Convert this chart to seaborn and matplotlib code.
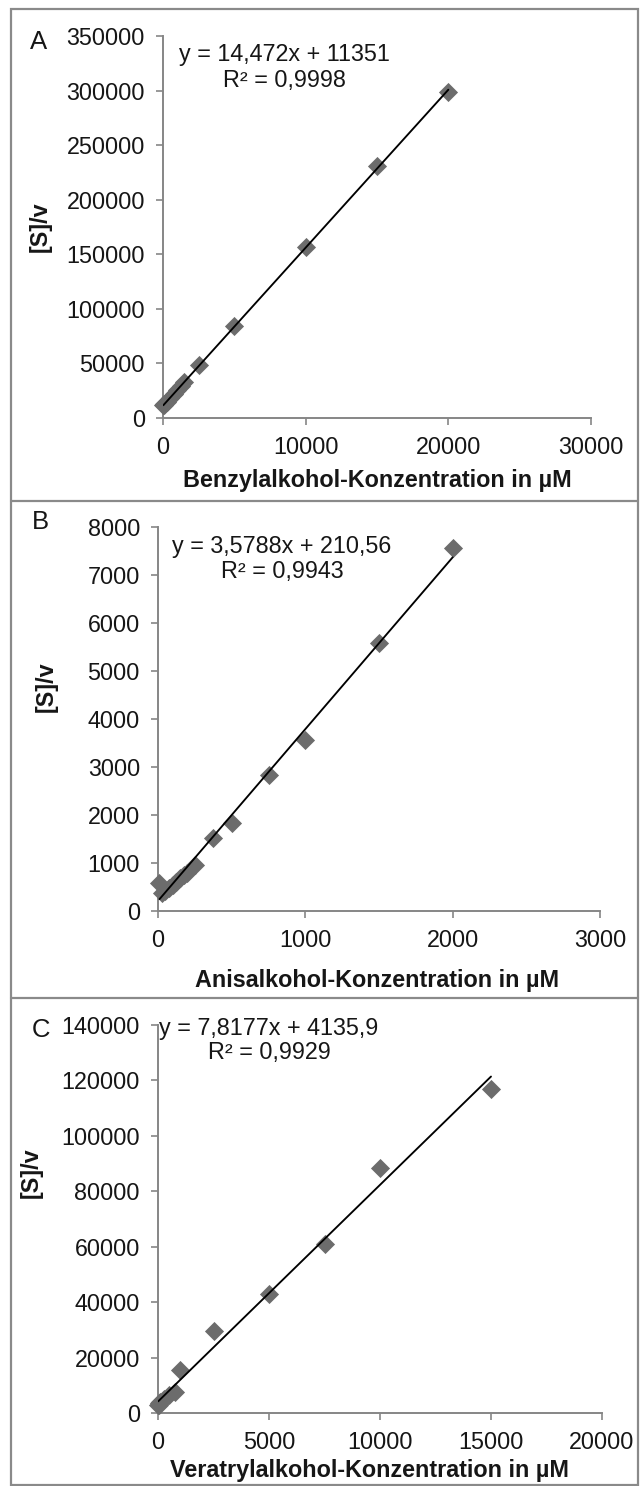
import matplotlib
matplotlib.use("Agg")
import matplotlib.pyplot as plt
from matplotlib.patches import Rectangle
from matplotlib.lines import Line2D
from matplotlib.ticker import FuncFormatter
import numpy as np
import pandas as pd
import seaborn as sns

# ---- data: substrate concentration (µM) vs. [S]/v (Hanes-Woolf) ----
benzyl_conc = [25, 50, 100, 250, 500, 750, 1000, 1250, 1500, 2500, 5000, 10000, 15000, 20000]
benzyl_sv = [11700, 12100, 12800, 15000, 18500, 22000, 25500, 29500, 33000, 49000,
             84000, 157000, 231000, 299000]
benzyl_fit = (14.472, 11351)
benzyl_r2 = "0,9998"

anis_conc = [10, 25, 50, 75, 100, 125, 150, 175, 200, 250, 375, 500, 750, 1000, 1500, 2000]
anis_sv = [590, 380, 420, 470, 540, 600, 680, 740, 800, 960, 1530, 1840, 2830, 3560, 5590, 7570]
anis_fit = (3.5788, 210.56)
anis_r2 = "0,9943"

veratryl_conc = [10, 25, 50, 100, 250, 500, 750, 1000, 2500, 5000, 7500, 10000, 15000]
veratryl_sv = [2800, 3000, 3500, 3900, 5000, 6600, 7600, 15500, 29500, 43000, 61000, 88500, 117000]
veratryl_fit = (7.8177, 4135.9)
veratryl_r2 = "0,9929"

panel_letters = ["A", "B", "C"]
x_labels = ["Benzylalkohol-Konzentration in µM",
            "Anisalkohol-Konzentration in µM",
            "Veratrylalkohol-Konzentration in µM"]
y_label = "[S]/v"
x_ticks = [[0, 10000, 20000, 30000], [0, 1000, 2000, 3000], [0, 5000, 10000, 15000, 20000]]
y_ticks = [list(range(0, 350001, 50000)), list(range(0, 8001, 1000)), list(range(0, 140001, 20000))]

# ---- style ----
sns.set_theme(style="white")
plt.rcParams["font.family"] = ["Liberation Sans", "DejaVu Sans"]

W, H = 640, 1486
fig = plt.figure(figsize=(W / 100, H / 100), dpi=100)
fig.patch.set_facecolor("white")

FS = 16.8        # tick labels and equations
FS_TITLE = 16.8  # axis titles (bold)
FS_LETTER = 18.5


def fx(px):
    return px / W


def fy(py):
    return 1 - py / H


# plot-area boxes in pixels: left, right, top, bottom
boxes = [(163, 591, 36, 418), (158, 600, 527, 911), (158, 602, 1025, 1413)]
# annotation anchors in pixels
eq_pos = [(284, 55, 80), (282, 547, 571), (269, 1028, 1053)]
letter_pos = [(39, 42), (40, 522), (41, 1030)]
ylabel_pos = [(40, 227), (46, 687), (31, 1173)]
xlabel_pos = [(377, 480), (377, 981), (369, 1471)]

datasets = [
    (benzyl_conc, benzyl_sv, benzyl_fit, benzyl_r2),
    (anis_conc, anis_sv, anis_fit, anis_r2),
    (veratryl_conc, veratryl_sv, veratryl_fit, veratryl_r2),
]

axis_grey = "#868686"
text_col = "#161616"
marker_col = "#6c6c6c"

for i, (conc, sv, fit, r2) in enumerate(datasets):
    l, r, t, b = boxes[i]
    ax = fig.add_axes([fx(l), fy(b), (r - l) / W, (b - t) / H])
    ax.set_facecolor("none")

    df = pd.DataFrame({"c": conc, "sv": sv})
    sns.scatterplot(data=df, x="c", y="sv", marker="D", s=95, color=marker_col,
                    linewidth=0, ax=ax, zorder=3, clip_on=False)

    slope, intercept = fit
    xs = np.array([min(conc), max(conc)], dtype=float)
    line_df = pd.DataFrame({"c": xs, "sv": slope * xs + intercept})
    sns.lineplot(data=line_df, x="c", y="sv", color="black", linewidth=1.35,
                 ax=ax, zorder=4)

    ax.set_xlim(x_ticks[i][0], x_ticks[i][-1])
    ax.set_ylim(y_ticks[i][0], y_ticks[i][-1])
    ax.set_xticks(x_ticks[i])
    ax.set_yticks(y_ticks[i])
    fmt = FuncFormatter(lambda v, p: f"{int(round(v))}")
    ax.xaxis.set_major_formatter(fmt)
    ax.yaxis.set_major_formatter(fmt)

    for s in ["top", "right"]:
        ax.spines[s].set_visible(False)
    for s in ["left", "bottom"]:
        ax.spines[s].set_color(axis_grey)
        ax.spines[s].set_linewidth(1.4)
    ax.tick_params(axis="both", direction="out", length=5, width=1.2, color=axis_grey,
                   labelsize=FS, labelcolor=text_col, pad=8)
    ax.tick_params(axis="y", left=True)
    ax.tick_params(axis="x", bottom=True)

    # axis titles
    ax.set_xlabel(x_labels[i], fontsize=FS_TITLE, fontweight="bold", color=text_col)
    ax.set_ylabel(y_label, fontsize=FS_TITLE, fontweight="bold", color=text_col)
    xl_x, xl_y = xlabel_pos[i]
    ax.xaxis.set_label_coords((xl_x - l) / (r - l), (b - xl_y) / (b - t))
    ax.xaxis.label.set_va("center")
    yl_x, yl_y = ylabel_pos[i]
    ax.yaxis.set_label_coords((yl_x - l) / (r - l), (b - yl_y) / (b - t))
    ax.yaxis.label.set_va("center")

    # regression equation
    ex, ey1, ey2 = eq_pos[i]
    eq = f"y = {str(slope).replace('.', ',')}x + {str(intercept).replace('.', ',')}"
    fig.text(fx(ex), fy(ey1), eq, ha="center", va="center", fontsize=FS, color=text_col)
    fig.text(fx(ex), fy(ey2), f"R² = {r2}", ha="center", va="center", fontsize=FS,
             color=text_col)

    # panel letter
    lx, ly = letter_pos[i]
    fig.text(fx(lx), fy(ly), panel_letters[i], ha="center", va="center", fontsize=FS_LETTER,
             color=text_col)

# frame around the figure and panel dividers
frame_col = "#8a8a8a"
fig.add_artist(Rectangle((fx(11), fy(1485)), (638 - 11) / W, (1485 - 9) / H,
                         transform=fig.transFigure, fill=False, edgecolor=frame_col,
                         linewidth=1.6))
for yy in (501, 998):
    fig.add_artist(Line2D([fx(11), fx(638)], [fy(yy), fy(yy)], transform=fig.transFigure,
                          color=frame_col, linewidth=1.6))

fig.savefig("out.png", dpi=100, facecolor="white")
